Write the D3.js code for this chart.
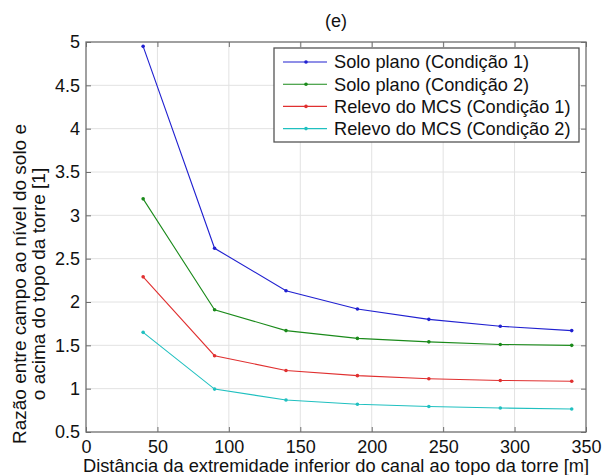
<!DOCTYPE html>
<html>
<head>
<meta charset="utf-8">
<script src="https://cdn.jsdelivr.net/npm/d3@7"></script>
<style>
  html, body { margin: 0; padding: 0; background: #fff; }
  svg { display: block; font-family: "Liberation Sans", Arial, sans-serif; }
</style>
</head>
<body>
<svg id="chart" width="603" height="475"></svg>
<script>
// Distance from the lower end of the channel to the tower top [m]
const distances = [40, 90, 140, 190, 240, 290, 340];

// Field ratio for each scenario
const soloPlano1 = [4.95, 2.62, 2.13, 1.92, 1.80, 1.72, 1.67];
const soloPlano2 = [3.19, 1.91, 1.67, 1.58, 1.54, 1.51, 1.50];
const relevo1    = [2.29, 1.38, 1.21, 1.15, 1.115, 1.095, 1.085];
const relevo2    = [1.65, 0.995, 0.87, 0.82, 0.795, 0.777, 0.765];

const seriesNames = [
  "Solo plano (Condição 1)",
  "Solo plano (Condição 2)",
  "Relevo do MCS (Condição 1)",
  "Relevo do MCS (Condição 2)"
];
const seriesColors = ["#2020d0", "#1a8a1a", "#e03030", "#20c0c0"];

const xTicks = [0, 50, 100, 150, 200, 250, 300, 350];
const yTicks = [0.5, 1, 1.5, 2, 2.5, 3, 3.5, 4, 4.5, 5];

const titleText = "(e)";
const xLabel = "Distância da extremidade inferior do canal ao topo da torre [m]";
const yLabelLines = ["Razão entre campo ao nível do solo e", "o acima do topo da torre [1]"];

const series = [soloPlano1, soloPlano2, relevo1, relevo2].map((vals, i) => ({
  name: seriesNames[i],
  color: seriesColors[i],
  points: vals.map((v, j) => ({ x: distances[j], y: v }))
}));

const svg = d3.select("#chart");
const margin = { left: 86, right: 17, top: 42, bottom: 43 };
const W = 603, H = 475;
const plotW = W - margin.left - margin.right;
const plotH = H - margin.top - margin.bottom;

const x = d3.scaleLinear().domain([0, 350]).range([margin.left, margin.left + plotW]);
const y = d3.scaleLinear().domain([0.5, 5]).range([margin.top + plotH, margin.top]);

const axisColor = "#6e6e6e";
const gridColor = "#e2e2e2";

// Grid
const grid = svg.append("g");
grid.selectAll("line.gx").data(xTicks.slice(1, -1)).join("line")
  .attr("x1", d => x(d)).attr("x2", d => x(d))
  .attr("y1", margin.top).attr("y2", margin.top + plotH)
  .attr("stroke", gridColor).attr("stroke-width", 1);
grid.selectAll("line.gy").data(yTicks.slice(1, -1)).join("line")
  .attr("x1", margin.left).attr("x2", margin.left + plotW)
  .attr("y1", d => y(d)).attr("y2", d => y(d))
  .attr("stroke", gridColor).attr("stroke-width", 1);

// Axes (ticks pointing inward, on all four sides)
function styleAxis(g) {
  g.select(".domain").remove();
  g.selectAll(".tick line").attr("stroke", axisColor);
  g.selectAll(".tick text").attr("fill", "#111").style("font-size", "18px");
}
svg.append("g").attr("transform", `translate(0,${margin.top + plotH})`)
  .call(d3.axisBottom(x).tickValues(xTicks).tickSize(-5).tickPadding(8).tickFormat(d3.format("d")))
  .call(styleAxis);
svg.append("g").attr("transform", `translate(${margin.left},0)`)
  .call(d3.axisLeft(y).tickValues(yTicks).tickSize(-5).tickPadding(6).tickFormat(d => String(d)))
  .call(styleAxis);
svg.append("g").attr("transform", `translate(0,${margin.top})`)
  .call(d3.axisTop(x).tickValues(xTicks).tickSize(-5).tickFormat(""))
  .call(styleAxis);
svg.append("g").attr("transform", `translate(${margin.left + plotW},0)`)
  .call(d3.axisRight(y).tickValues(yTicks).tickSize(-5).tickFormat(""))
  .call(styleAxis);

svg.append("rect")
  .attr("x", margin.left).attr("y", margin.top)
  .attr("width", plotW).attr("height", plotH)
  .attr("fill", "none").attr("stroke", axisColor).attr("stroke-width", 1.3);

// Lines and markers
const line = d3.line().x(d => x(d.x)).y(d => y(d.y));
const sg = svg.append("g").selectAll("g").data(series).join("g");
sg.append("path")
  .attr("d", d => line(d.points))
  .attr("fill", "none").attr("stroke", d => d.color).attr("stroke-width", 1.1);
sg.each(function(s) {
  d3.select(this).selectAll("circle").data(s.points).join("circle")
    .attr("cx", d => x(d.x)).attr("cy", d => y(d.y)).attr("r", 1.8)
    .attr("fill", s.color);
});

// Title
svg.append("text")
  .attr("x", margin.left + plotW / 2).attr("y", 27)
  .attr("text-anchor", "middle").style("font-size", "18px").attr("fill", "#111")
  .text(titleText);

// X label
svg.append("text")
  .attr("x", margin.left + plotW / 2).attr("y", 472)
  .attr("text-anchor", "middle").style("font-size", "18.3px").attr("fill", "#111")
  .text(xLabel);

// Y label (two lines)
const yl = svg.append("text")
  .attr("transform", `translate(26,284) rotate(-90)`)
  .attr("text-anchor", "middle").style("font-size", "19px").attr("fill", "#111");
yl.selectAll("tspan").data(yLabelLines).join("tspan")
  .attr("x", 0).attr("dy", (d, i) => i === 0 ? 0 : 19)
  .text(d => d);

// Legend
const lg = svg.append("g");
const lgX = 274, lgY = 48, rowH = 22.2;
lg.append("rect")
  .attr("x", lgX).attr("y", lgY).attr("width", 305).attr("height", 94)
  .attr("fill", "#fff").attr("stroke", "#555").attr("stroke-width", 1.3);
const rows = lg.selectAll("g.row").data(series).join("g")
  .attr("transform", (d, i) => `translate(0,${lgY + 14 + i * rowH})`);
rows.append("line")
  .attr("x1", lgX + 9).attr("x2", lgX + 53).attr("y1", 0).attr("y2", 0)
  .attr("stroke", d => d.color).attr("stroke-width", 1.1);
rows.append("circle")
  .attr("cx", lgX + 32).attr("cy", 0).attr("r", 1.8).attr("fill", d => d.color);
rows.append("text")
  .attr("x", lgX + 60).attr("y", 0).attr("dy", "0.35em")
  .style("font-size", "18.2px").attr("fill", "#111")
  .text(d => d.name);
</script>
</body>
</html>
